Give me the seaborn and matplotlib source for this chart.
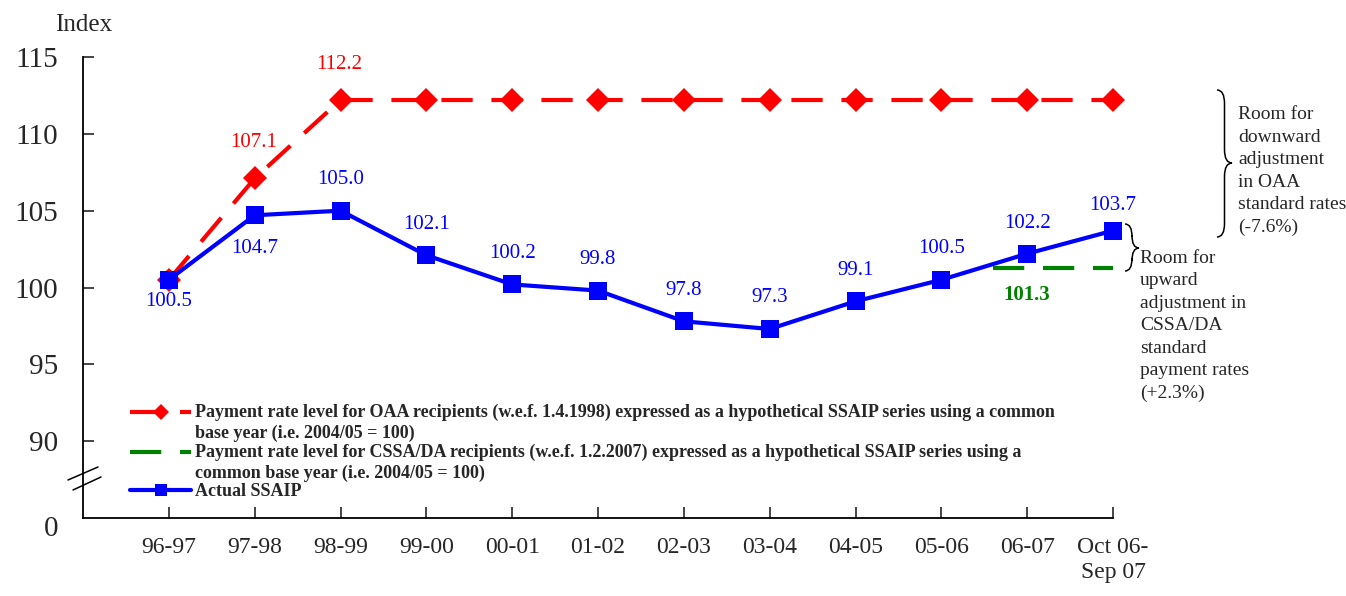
import numpy as np
import matplotlib
matplotlib.use("Agg")
import matplotlib.pyplot as plt
from matplotlib.lines import Line2D
from matplotlib.path import Path
from matplotlib.patches import PathPatch
from matplotlib.legend_handler import HandlerLine2D
import seaborn as sns

# Data
periods = ["96-97", "97-98", "98-99", "99-00", "00-01", "01-02", "02-03",
           "03-04", "04-05", "05-06", "06-07", "Oct 06-\nSep 07"]
ssaip = [100.5, 104.7, 105.0, 102.1, 100.2, 99.8, 97.8, 97.3, 99.1, 100.5, 102.2, 103.7]
oaa_level = [100.5, 107.1, 112.2, 112.2, 112.2, 112.2, 112.2, 112.2, 112.2, 112.2, 112.2, 112.2]
cssa_level = 101.3
y_ticks = [90, 95, 100, 105, 110, 115]

oaa_label = ("Payment rate level for OAA recipients (w.e.f. 1.4.1998) expressed as a hypothetical SSAIP series using a common\n"
             "base year (i.e. 2004/05 = 100)")
cssa_label = ("Payment rate level for CSSA/DA recipients (w.e.f. 1.2.2007) expressed as a hypothetical SSAIP series using a\n"
              "common base year (i.e. 2004/05 = 100)")
ssaip_label = "Actual SSAIP"

RED, GREEN, BLUE = "#ff0000", "#008000", "#0000ff"
W, H = 1346, 596

sns.set_style("white")
plt.rcParams["font.family"] = ["Liberation Serif", "DejaVu Serif"]

fig = plt.figure(figsize=(W / 100, H / 100), dpi=100)
ax = fig.add_axes([83 / W, 1 - 518 / H, (1113 - 83) / W, (518 - 57) / H])

x = np.arange(len(periods))

# OAA hypothetical series (red dashed, diamonds)
sns.lineplot(x=x, y=oaa_level, ax=ax, color=RED, lw=3, marker="D", markersize=12,
             markeredgecolor=RED, markeredgewidth=0, legend=False, clip_on=False)
ax.lines[-1].set_dashes([7.5, 4.5])

# CSSA/DA level (green dashed), effective part-way through 06-07
i_cssa = periods.index("06-07")
sns.lineplot(x=[i_cssa - 0.4, len(periods) - 1], y=[cssa_level, cssa_level], ax=ax,
             color=GREEN, lw=3, legend=False, clip_on=False)
ax.lines[-1].set_dashes([7.5, 4.5])

# Actual SSAIP (blue solid, squares)
sns.lineplot(x=x, y=ssaip, ax=ax, color=BLUE, lw=3, marker="s", markersize=13,
             markeredgecolor=BLUE, markeredgewidth=0, legend=False, clip_on=False)

# value labels
blue_off = [-22, -33, 31, 31, 31, 31, 31, 31, 31, 31, 30, 25]
for xi, v, off in zip(x, ssaip, blue_off):
    ax.annotate(f"{v:.1f}", (xi, v), xytext=(0, off), textcoords="offset pixels",
                ha="center", va="center", color=BLUE, fontsize=15)
for xi in (1, 2):
    ax.annotate(f"{oaa_level[xi]:.1f}", (xi, oaa_level[xi]), xytext=(-1, 36),
                textcoords="offset pixels", ha="center", va="center", color=RED, fontsize=15)
ax.annotate(f"{cssa_level:.1f}", (i_cssa, cssa_level), xytext=(0, -27), textcoords="offset pixels",
            ha="center", va="center", color=GREEN, fontsize=15, fontweight="bold")

# axes
ax.set_xlim(-1, len(periods) - 1)
ax.set_ylim(85, 115)
ax.set_xticks(x)
ax.set_xticklabels(periods)
ax.set_yticks(y_ticks)
ax.set_yticklabels([str(t) for t in y_ticks])
ax.tick_params(axis="y", direction="in", length=8, width=1.2, labelsize=21, pad=18, left=True)
ax.tick_params(axis="x", direction="in", length=8, width=1.2, labelsize=17, pad=14, bottom=True)
for s in ("top", "right"):
    ax.spines[s].set_visible(False)
for s in ("left", "bottom"):
    ax.spines[s].set_color("black")
    ax.spines[s].set_linewidth(1.3)
ax.set_xlabel("")
ax.set_ylabel("")


def px(xp, yp):
    # reference pixel -> axes fraction
    return ((xp - 83) / 1030, (518 - yp) / 461)


# axis break and the "0" at the bottom
for (x0, y0), (x1, y1) in [((68, 480), (98, 467)), ((73, 490), (101, 477))]:
    a, b = px(x0, y0), px(x1, y1)
    ax.plot([a[0], b[0]], [a[1], b[1]], color="black", lw=1.1, transform=ax.transAxes, clip_on=False)
fig.text(58 / W, 1 - 529 / H, "0", ha="right", va="center", fontsize=21)
fig.text(84 / W, 1 - 25 / H, "Index", ha="center", va="center", fontsize=18)


# legend, with handles lifted to the first line of two-line labels
class FirstLineHandler(HandlerLine2D):
    def __init__(self, shift, **kw):
        super().__init__(**kw)
        self.shift = shift

    def create_artists(self, legend, orig_handle, xdescent, ydescent, width, height, fontsize, trans):
        return super().create_artists(legend, orig_handle, xdescent, ydescent - 2 * self.shift,
                                      width, height, fontsize, trans)


handles = [
    Line2D([], [], color=RED, lw=3, dashes=[7.5, 4.5], marker="D", markersize=8, markeredgewidth=0),
    Line2D([], [], color=GREEN, lw=3, dashes=[7.5, 4.5]),
    Line2D([], [], color=BLUE, lw=3, marker="s", markersize=9, markeredgewidth=0),
]
leg = ax.legend(handles, [oaa_label, cssa_label, ssaip_label], loc="upper left",
                bbox_to_anchor=px(130, 404), frameon=False, borderpad=0, borderaxespad=0,
                handlelength=3.4, handletextpad=0.2, labelspacing=0.1, numpoints=1,
                handler_map={handles[0]: FirstLineHandler(8.2), handles[1]: FirstLineHandler(8.2)},
                prop={"family": "Liberation Serif", "weight": "bold", "size": 13})
for t in leg.get_texts():
    t.set_linespacing(1.25)


# curly braces on the right
def brace(x_end, x_tip, y_top, y_bot, y_mid):
    xm = (x_end + x_tip) / 2
    r = (x_tip - x_end) * 0.9
    pts = [(x_end, y_top), (xm, y_top), (xm, y_top + r),
           (xm, y_mid - r), (xm, y_mid), (x_tip, y_mid),
           (xm, y_mid), (xm, y_mid + r),
           (xm, y_bot - r), (xm, y_bot), (x_end, y_bot)]
    codes = [Path.MOVETO, Path.CURVE3, Path.CURVE3,
             Path.LINETO, Path.CURVE3, Path.CURVE3,
             Path.CURVE3, Path.CURVE3,
             Path.LINETO, Path.CURVE3, Path.CURVE3]
    verts = [(p[0] / W, 1 - p[1] / H) for p in pts]
    fig.add_artist(PathPatch(Path(verts, codes), fill=False, lw=1.1, edgecolor="black",
                             transform=fig.transFigure))


brace(1217, 1232, 90, 237, 163)
brace(1125, 1139, 224, 271, 248)

fig.text(1238 / W, 1 - 171 / H,
         "Room for\ndownward\nadjustment\nin OAA\nstandard rates\n(-7.6%)",
         ha="left", va="center", fontsize=14, linespacing=1.42)
fig.text(1140 / W, 1 - 326 / H,
         "Room for\nupward\nadjustment in\nCSSA/DA\nstandard\npayment rates\n(+2.3%)",
         ha="left", va="center", fontsize=14, linespacing=1.42)

fig.savefig("out.png", dpi=100)
